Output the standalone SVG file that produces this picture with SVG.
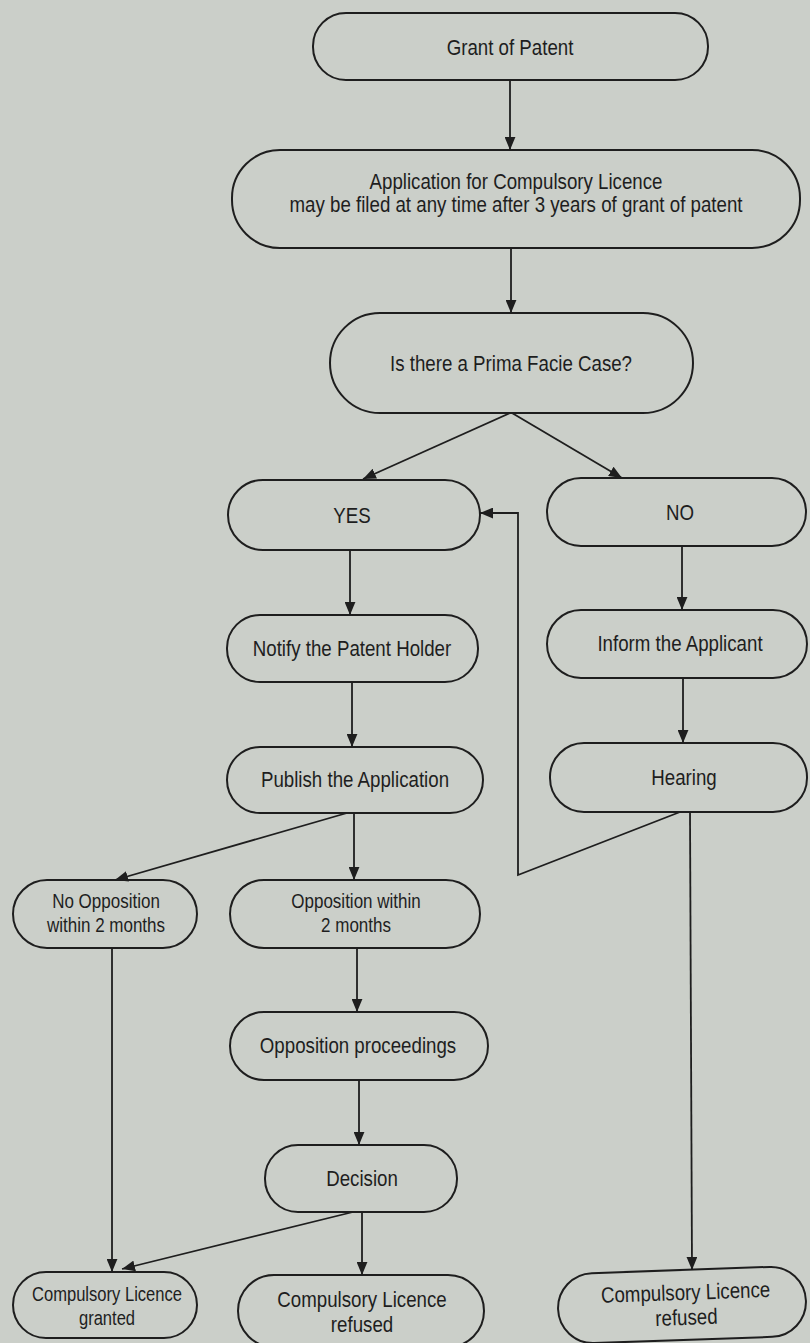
<svg xmlns="http://www.w3.org/2000/svg" width="810" height="1343" viewBox="0 0 810 1343">
<defs>
<marker id="ah" viewBox="0 0 12 10" refX="12" refY="5" markerWidth="13" markerHeight="11" markerUnits="userSpaceOnUse" orient="auto">
<path d="M0,0 L12,5 L0,10 Z" fill="#1e1e1e"/>
</marker>
<style>
.n rect{fill:none;stroke:#1e1e1e;stroke-width:2}
.n text{font-family:"Liberation Sans",Arial,sans-serif;font-size:22px;fill:#1e1e1e;text-anchor:middle}
.n text.s{font-size:20px}
.n text.xs{font-size:19.5px}
.c path{fill:none;stroke:#1e1e1e;stroke-width:1.8;marker-end:url(#ah)}
</style>
</defs>
<rect width="810" height="1343" fill="#cbcfc9"/>
<g id="grant" class="n"><rect x="313" y="13" width="395" height="67" rx="33"/><text transform="translate(510 55) scale(.85 1)">Grant of Patent</text></g>
<g id="application" class="n"><rect x="232" y="150" width="568" height="98" rx="48"/><text transform="translate(516 189) scale(.85 1)">Application for Compulsory Licence</text><text transform="translate(516 212) scale(.85 1)">may be filed at any time after 3 years of grant of patent</text></g>
<g id="prima" class="n"><rect x="330" y="313" width="363" height="100" rx="50"/><text transform="translate(511 371) scale(.85 1)">Is there a Prima Facie Case?</text></g>
<g id="yes" class="n"><rect x="228" y="480" width="252" height="70" rx="35"/><text transform="translate(352 523) scale(.85 1)">YES</text></g>
<g id="no" class="n"><rect x="547" y="478" width="259" height="68" rx="34"/><text transform="translate(680 520) scale(.85 1)">NO</text></g>
<g id="notify" class="n"><rect x="227" y="615" width="251" height="67" rx="33"/><text transform="translate(352 656) scale(.85 1)">Notify the Patent Holder</text></g>
<g id="inform" class="n"><rect x="547" y="610" width="260" height="68" rx="34"/><text transform="translate(680 651) scale(.85 1)">Inform the Applicant</text></g>
<g id="publish" class="n"><rect x="227" y="747" width="256" height="66" rx="33"/><text transform="translate(355 787) scale(.85 1)">Publish the Application</text></g>
<g id="hearing" class="n"><rect x="550" y="743" width="257" height="69" rx="34"/><text transform="translate(684 785) scale(.85 1)">Hearing</text></g>
<g id="noopp" class="n"><rect x="13" y="880" width="184" height="68" rx="34"/><text class="s" transform="translate(106 908) scale(.85 1)">No Opposition</text><text class="s" transform="translate(106 932) scale(.85 1)">within 2 months</text></g>
<g id="oppwithin" class="n"><rect x="230" y="880" width="250" height="68" rx="34"/><text class="s" transform="translate(356 908) scale(.85 1)">Opposition within</text><text class="s" transform="translate(356 932) scale(.85 1)">2 months</text></g>
<g id="proceedings" class="n"><rect x="230" y="1012" width="258" height="68" rx="34"/><text transform="translate(358 1053) scale(.85 1)">Opposition proceedings</text></g>
<g id="decision" class="n"><rect x="265" y="1145" width="192" height="67" rx="33"/><text transform="translate(362 1186) scale(.85 1)">Decision</text></g>
<g id="granted" class="n"><rect x="13" y="1272" width="184" height="66" rx="33"/><text class="xs" transform="translate(107 1301) scale(.85 1)">Compulsory Licence</text><text class="xs" transform="translate(107 1325) scale(.85 1)">granted</text></g>
<g id="refused1" class="n"><rect x="238" y="1275" width="246" height="72" rx="36"/><text transform="translate(362 1307) scale(.85 1)">Compulsory Licence</text><text transform="translate(362 1332) scale(.85 1)">refused</text></g>
<g id="refused2" class="n" transform="rotate(-2 682 1305)"><rect x="558" y="1270" width="248" height="70" rx="35"/><text transform="translate(686 1300) scale(.85 1)">Compulsory Licence</text><text transform="translate(686 1325) scale(.85 1)">refused</text></g>
<g id="connectors" class="c">
<path d="M510,80 V150"/>
<path d="M511,248 V313"/>
<path d="M510,413 L363,479"/>
<path d="M512,413 L622,478"/>
<path d="M350,550 V615"/>
<path d="M682,546 V610"/>
<path d="M352,682 V747"/>
<path d="M683,678 V743"/>
<path d="M354,813 V880"/>
<path d="M347,813 L115,880"/>
<path d="M680,812 L518,875 V513 H480"/>
<path d="M690,812 L692,1270"/>
<path d="M357,948 V1012"/>
<path d="M359,1080 V1145"/>
<path d="M362,1212 V1275"/>
<path d="M353,1212 L122,1269"/>
<path d="M112,948 V1272"/>
</g>
</svg>
